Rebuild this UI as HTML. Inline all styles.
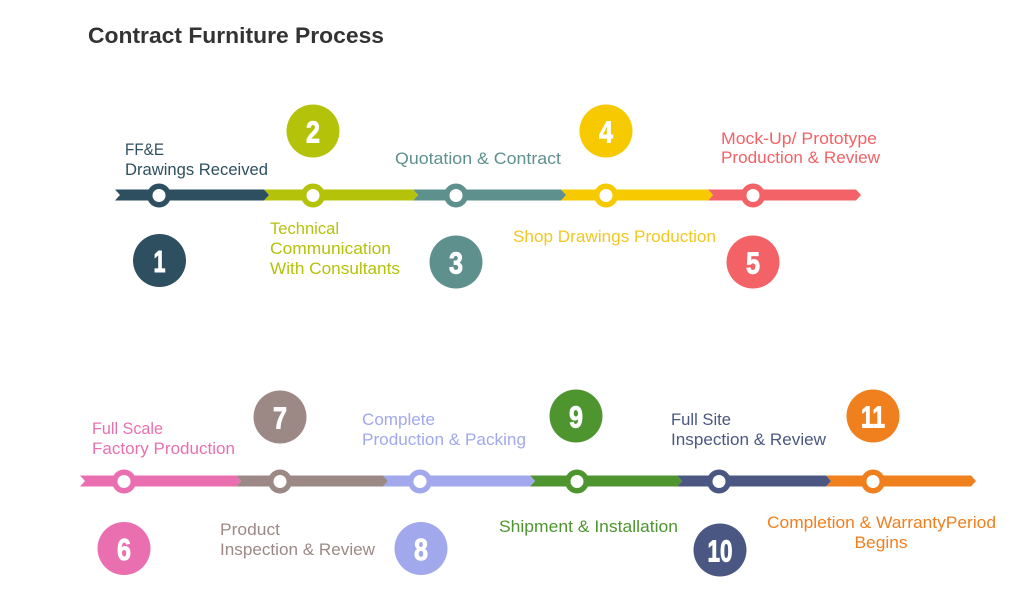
<!DOCTYPE html>
<html><head><meta charset="utf-8"><style>
html,body{margin:0;padding:0;background:#fff;}
svg{display:block;}
text{font-family:"Liberation Sans",sans-serif;}
.n{font-weight:bold;fill:#fff;stroke:#fff;stroke-width:0.9;font-size:31px;text-anchor:middle;}
.t{font-size:17px;}
</style></head><body>
<svg width="1024" height="592" viewBox="0 0 1024 592" xmlns="http://www.w3.org/2000/svg">
<rect width="1024" height="592" fill="#fff"/>
<text x="88" y="43" font-size="22" font-weight="bold" fill="#333" textLength="296" lengthAdjust="spacingAndGlyphs">Contract Furniture Process</text>

<!-- top row bar -->
<g>
<polygon points="708,189.5 856,189.5 861,195 856,200.5 708,200.5 713,195" fill="#f26266"/>
<polygon points="561,189.5 708,189.5 713,195 708,200.5 561,200.5 566,195" fill="#f6c900"/>
<polygon points="413,189.5 561,189.5 566,195 561,200.5 413,200.5 418,195" fill="#5e908e"/>
<polygon points="264,189.5 413,189.5 418,195 413,200.5 264,200.5 269,195" fill="#b4c20a"/>
<polygon points="115,189.5 264,189.5 269,195 264,200.5 115,200.5 120,195" fill="#2e4f5f"/>
</g>
<g>
<circle cx="159" cy="195.5" r="12" fill="#2e4f5f"/><circle cx="159" cy="195.5" r="6.5" fill="#fff"/>
<circle cx="313" cy="195.5" r="12" fill="#b4c20a"/><circle cx="313" cy="195.5" r="6.5" fill="#fff"/>
<circle cx="456" cy="195.5" r="12" fill="#5e908e"/><circle cx="456" cy="195.5" r="6.5" fill="#fff"/>
<circle cx="606" cy="195.5" r="12" fill="#f6c900"/><circle cx="606" cy="195.5" r="6.5" fill="#fff"/>
<circle cx="753" cy="195.5" r="12" fill="#f26266"/><circle cx="753" cy="195.5" r="6.5" fill="#fff"/>
</g>

<!-- top numbered circles -->
<circle cx="159.5" cy="260.5" r="26.5" fill="#2e4f5f"/><text class="n" x="159.5" y="272" textLength="12" lengthAdjust="spacingAndGlyphs">1</text>
<circle cx="313" cy="131" r="26.5" fill="#b4c20a"/><text class="n" x="313" y="142.5" textLength="14" lengthAdjust="spacingAndGlyphs">2</text>
<circle cx="456" cy="262" r="26.5" fill="#5e908e"/><text class="n" x="456" y="273.5" textLength="14" lengthAdjust="spacingAndGlyphs">3</text>
<circle cx="606" cy="131" r="26.5" fill="#f6c900"/><text class="n" x="606" y="142.5" textLength="14" lengthAdjust="spacingAndGlyphs">4</text>
<circle cx="753" cy="262" r="26.5" fill="#f26266"/><text class="n" x="753" y="273.5" textLength="14" lengthAdjust="spacingAndGlyphs">5</text>

<!-- top labels -->
<text class="t" x="125" y="155" fill="#2e4f5f" textLength="39" lengthAdjust="spacingAndGlyphs">FF&amp;E</text>
<text class="t" x="125" y="175" fill="#2e4f5f" textLength="143" lengthAdjust="spacingAndGlyphs">Drawings Received</text>
<text class="t" x="270" y="234" fill="#b4c20a" textLength="69" lengthAdjust="spacingAndGlyphs">Technical</text>
<text class="t" x="270" y="254" fill="#b4c20a" textLength="121" lengthAdjust="spacingAndGlyphs">Communication</text>
<text class="t" x="270" y="274" fill="#b4c20a" textLength="130" lengthAdjust="spacingAndGlyphs">With Consultants</text>
<text class="t" x="395" y="164" fill="#5e908e" textLength="166" lengthAdjust="spacingAndGlyphs">Quotation &amp; Contract</text>
<text class="t" x="513" y="242" fill="#f3c722" textLength="203" lengthAdjust="spacingAndGlyphs">Shop Drawings Production</text>
<text class="t" x="721" y="144" fill="#f26266" textLength="156" lengthAdjust="spacingAndGlyphs">Mock-Up/ Prototype</text>
<text class="t" x="721" y="163" fill="#f26266" textLength="159" lengthAdjust="spacingAndGlyphs">Production &amp; Review</text>

<!-- bottom row bar -->
<g>
<polygon points="826,475.5 971,475.5 976,481 971,486.5 826,486.5 831,481" fill="#f07f1e"/>
<polygon points="677,475.5 826,475.5 831,481 826,486.5 677,486.5 682,481" fill="#4b5783"/>
<polygon points="530,475.5 677,475.5 682,481 677,486.5 530,486.5 535,481" fill="#4e9530"/>
<polygon points="383,475.5 530,475.5 535,481 530,486.5 383,486.5 388,481" fill="#a1a9ec"/>
<polygon points="236,475.5 383,475.5 388,481 383,486.5 236,486.5 241,481" fill="#9c8985"/>
<polygon points="80,475.5 236,475.5 241,481 236,486.5 80,486.5 85,481" fill="#e96fb1"/>
</g>
<g>
<circle cx="124" cy="481.5" r="12" fill="#e96fb1"/><circle cx="124" cy="481.5" r="6.5" fill="#fff"/>
<circle cx="280" cy="481.5" r="12" fill="#9c8985"/><circle cx="280" cy="481.5" r="6.5" fill="#fff"/>
<circle cx="420" cy="481.5" r="12" fill="#a1a9ec"/><circle cx="420" cy="481.5" r="6.5" fill="#fff"/>
<circle cx="577" cy="481.5" r="12" fill="#4e9530"/><circle cx="577" cy="481.5" r="6.5" fill="#fff"/>
<circle cx="719" cy="481.5" r="12" fill="#4b5783"/><circle cx="719" cy="481.5" r="6.5" fill="#fff"/>
<circle cx="873" cy="481.5" r="12" fill="#f07f1e"/><circle cx="873" cy="481.5" r="6.5" fill="#fff"/>
</g>

<!-- bottom numbered circles -->
<circle cx="124" cy="548.5" r="26.5" fill="#e96fb1"/><text class="n" x="124" y="560" textLength="14" lengthAdjust="spacingAndGlyphs">6</text>
<circle cx="280" cy="417" r="26.5" fill="#9c8985"/><text class="n" x="280" y="428.5" textLength="14" lengthAdjust="spacingAndGlyphs">7</text>
<circle cx="421" cy="548.5" r="26.5" fill="#a1a9ec"/><text class="n" x="421" y="560" textLength="14" lengthAdjust="spacingAndGlyphs">8</text>
<circle cx="576" cy="416" r="26.5" fill="#4e9530"/><text class="n" x="576" y="427.5" textLength="14" lengthAdjust="spacingAndGlyphs">9</text>
<circle cx="720" cy="550" r="26.5" fill="#4b5783"/><text class="n" x="720" y="561.5" textLength="25" lengthAdjust="spacingAndGlyphs">10</text>
<circle cx="873" cy="416" r="26.5" fill="#f07f1e"/><text class="n" x="873" y="427.5" textLength="24" lengthAdjust="spacingAndGlyphs">11</text>

<!-- bottom labels -->
<text class="t" x="92" y="434" fill="#e870b0" textLength="71" lengthAdjust="spacingAndGlyphs">Full Scale</text>
<text class="t" x="92" y="454" fill="#e870b0" textLength="143" lengthAdjust="spacingAndGlyphs">Factory Production</text>
<text class="t" x="362" y="425" fill="#a1a9ec" textLength="73" lengthAdjust="spacingAndGlyphs">Complete</text>
<text class="t" x="362" y="445" fill="#a1a9ec" textLength="164" lengthAdjust="spacingAndGlyphs">Production &amp; Packing</text>
<text class="t" x="220" y="535" fill="#9c8985" textLength="60" lengthAdjust="spacingAndGlyphs">Product</text>
<text class="t" x="220" y="555" fill="#9c8985" textLength="155" lengthAdjust="spacingAndGlyphs">Inspection &amp; Review</text>
<text class="t" x="499" y="532" fill="#4e9530" textLength="179" lengthAdjust="spacingAndGlyphs">Shipment &amp; Installation</text>
<text class="t" x="671" y="425" fill="#4b5783" textLength="60" lengthAdjust="spacingAndGlyphs">Full Site</text>
<text class="t" x="671" y="445" fill="#4b5783" textLength="155" lengthAdjust="spacingAndGlyphs">Inspection &amp; Review</text>
<text class="t" x="767" y="528" fill="#f07f1e" textLength="229" lengthAdjust="spacingAndGlyphs">Completion &amp; WarrantyPeriod</text>
<text class="t" x="881" y="548" fill="#f07f1e" text-anchor="middle" textLength="53" lengthAdjust="spacingAndGlyphs">Begins</text>
</svg>
</body></html>
